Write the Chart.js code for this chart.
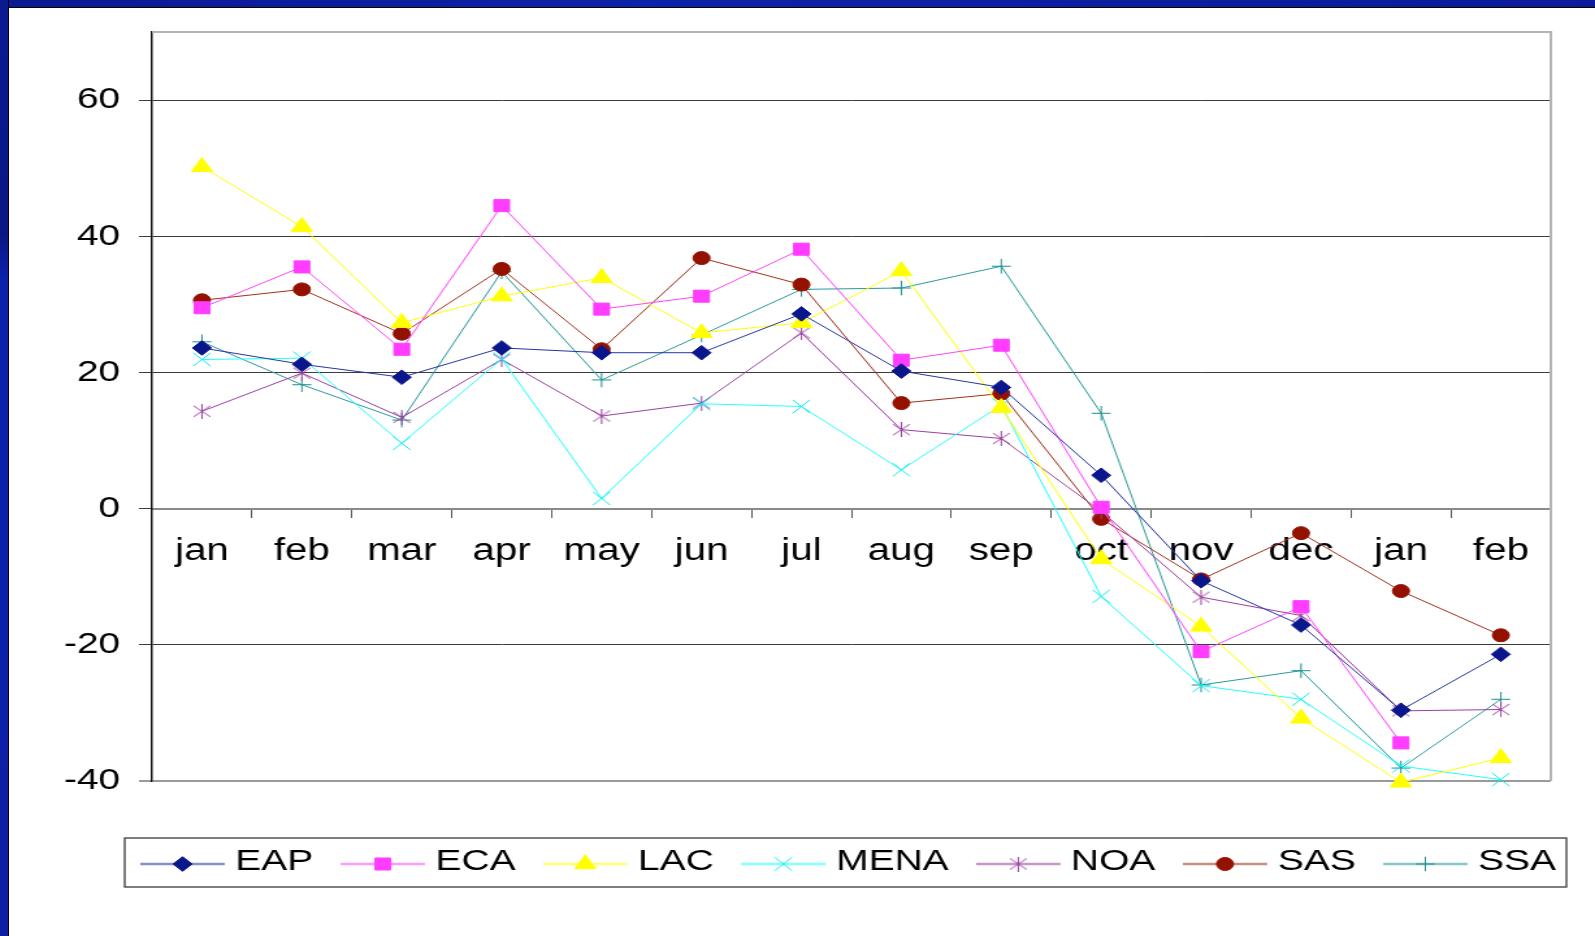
<!DOCTYPE html>
<html>
<head>
<meta charset="utf-8">
<script src="https://cdn.jsdelivr.net/npm/chart.js@4/dist/chart.umd.min.js"></script>
<style>
  html, body { margin: 0; padding: 0; background: #fff; overflow: hidden; }
  body { width: 1595px; height: 936px; position: relative; font-family: "Liberation Sans", Arial, sans-serif; }
  .barTop { position: absolute; left: 0; top: 0; width: 1595px; height: 7px;
    background: linear-gradient(90deg, #0a1a92, #0c22a8 40%, #0a1c9a); border-bottom: 1px solid #000; }
  .barLeft { position: absolute; left: 0; top: 0; width: 8px; height: 936px;
    background: linear-gradient(180deg, #0a1a92, #0a1884 25%, #0c22ac 30%, #0b20a4); border-right: 1px solid #000; }
  #chart { position: absolute; left: 9px; top: 8px; }
</style>
</head>
<body>
<div class="barTop"></div>
<div class="barLeft"></div>
<canvas id="chart" width="1220" height="928" style="width:1586px;height:928px"></canvas>
<script>
// the original picture is stretched sideways, so the canvas is drawn narrow and shown wide
const months = ['jan', 'feb', 'mar', 'apr', 'may', 'jun', 'jul', 'aug', 'sep', 'oct', 'nov', 'dec', 'jan', 'feb'];

const eap  = [23.6, 21.2, 19.3, 23.6, 22.9, 22.9, 28.6, 20.2, 17.8, 4.9, -10.6, -17.1, -29.6, -21.4];
const eca  = [29.5, 35.5, 23.4, 44.5, 29.3, 31.2, 38.1, 21.8, 24.0, 0.2, -21.0, -14.4, -34.4, null];
const lac  = [50.2, 41.4, 27.3, 31.2, 33.9, 25.8, 27.3, 34.9, 14.8, -7.4, -17.3, -30.8, -40.2, -36.6];
const mena = [21.9, 22.1, 9.6, 22.0, 1.5, 15.4, 15.0, 5.7, 15.2, -12.9, -26.0, -28.0, -37.8, -39.8];
const noa  = [14.3, 19.9, 13.4, 21.9, 13.6, 15.5, 25.8, 11.6, 10.3, -0.4, -13.0, -15.7, -29.7, -29.5];
const sas  = [30.6, 32.2, 25.7, 35.2, 23.4, 36.8, 32.9, 15.5, 16.9, -1.5, -10.4, -3.6, -12.1, -18.6];
const ssa  = [24.5, 18.2, 13.0, 34.8, 18.9, 25.5, 32.2, 32.4, 35.6, 14.0, -25.9, -23.8, -38.1, -28.0];

const yTicks = [-40, -20, 0, 20, 40, 60];

const FONT = '"Liberation Sans", Arial, sans-serif';

// Excel style asterisk: vertical bar plus an X
function asterisk(color, w, h) {
    const c = document.createElement('canvas');
    c.width = w;
    c.height = h;
    const g = c.getContext('2d');
    g.strokeStyle = color;
    g.lineWidth = 1;
    g.beginPath();
    g.moveTo(w / 2, 0); g.lineTo(w / 2, h);
    g.moveTo(1, 2); g.lineTo(w - 1, h - 2);
    g.moveTo(w - 1, 2); g.lineTo(1, h - 2);
    g.stroke();
    return c;
}

function series(label, data, line, marker, style, radius) {
    return {
        label,
        data,
        borderColor: line,
        borderWidth: 1,
        backgroundColor: marker,
        pointBackgroundColor: marker,
        pointBorderColor: marker,
        pointBorderWidth: 1,
        pointStyle: style,
        pointRadius: radius,
        pointHoverRadius: radius,
        tension: 0,
        spanGaps: false,
        clip: false
    };
}

const datasets = [
    series('EAP', eap, '#2435a0', '#0a168c', 'rectRot', 7.3),
    series('ECA', eca, '#ff44ff', '#ff3cff', 'rect', 8.5),
    series('LAC', lac, '#ffff00', '#ffff00', 'triangle', 9.3),
    series('MENA', mena, '#22ffff', '#00f0f0', 'crossRot', 9.4),
    series('NOA', noa, '#9a3f9e', '#9a3f9e', asterisk('#9a3f9e', 15, 15), 7),
    series('SAS', sas, '#a0301c', '#941100', 'circle', 6.5),
    series('SSA', ssa, '#2a9a9a', '#1f8f8f', 'cross', 7.3)
];

// grey frame on top and right of the plot
const plotFrame = {
    id: 'plotFrame',
    afterDatasetsDraw(chart) {
        const { ctx, chartArea: a } = chart;
        ctx.save();
        ctx.strokeStyle = '#b4b4b4';
        ctx.lineWidth = 2;
        ctx.beginPath();
        ctx.moveTo(a.left, a.top);
        ctx.lineTo(a.right, a.top);
        ctx.lineTo(a.right, a.bottom);
        ctx.stroke();
        ctx.restore();
    }
};

// legend in a box under the plot, line + marker + label for each series
const boxLegend = {
    id: 'boxLegend',
    afterDraw(chart) {
        const ctx = chart.ctx;
        const box = { left: 89, top: 830, right: 1198, bottom: 879 };
        const lineLen = 65, gap = 8;
        ctx.save();
        ctx.strokeStyle = '#3a3a3a';
        ctx.lineWidth = 1.3;
        ctx.strokeRect(box.left, box.top, box.right - box.left, box.bottom - box.top);

        ctx.font = '30px ' + FONT;
        const widths = chart.data.datasets.map(d => lineLen + gap + ctx.measureText(d.label).width);
        const x0 = 101, x1 = 1190;
        const total = widths.reduce((s, w) => s + w, 0);
        const spacing = (x1 - x0 - total) / (widths.length - 1);
        const ly = 856;
        let x = x0;
        chart.data.datasets.forEach((d, i) => {
            ctx.globalAlpha = 0.55;
            ctx.strokeStyle = d.borderColor;
            ctx.lineWidth = 2.5;
            ctx.beginPath();
            ctx.moveTo(x, ly);
            ctx.lineTo(x + lineLen, ly);
            ctx.stroke();
            ctx.globalAlpha = 1;
            ctx.fillStyle = d.pointBackgroundColor;
            ctx.strokeStyle = d.pointBorderColor;
            ctx.lineWidth = 1;
            Chart.helpers.drawPoint(ctx, {
                pointStyle: d.pointStyle,
                radius: d.pointRadius,
                borderWidth: 1,
                rotation: 0
            }, x + lineLen / 2, ly);
            ctx.fillStyle = '#000';
            ctx.textBaseline = 'alphabetic';
            ctx.textAlign = 'left';
            ctx.fillText(d.label, x + lineLen + gap, 862);
            x += widths[i] + spacing;
        });
        ctx.restore();
    }
};

new Chart(document.getElementById('chart'), {
    type: 'line',
    data: { labels: months, datasets },
    options: {
        responsive: false,
        animation: false,
        devicePixelRatio: 1,
        layout: { padding: { left: 20, right: 34, top: 24, bottom: 155 } },
        plugins: {
            legend: { display: false },
            tooltip: { enabled: false }
        },
        scales: {
            x: {
                type: 'category',
                position: { y: 0 },
                offset: true,
                grid: {
                    offset: true,
                    drawOnChartArea: false,
                    drawTicks: true,
                    tickLength: 8,
                    color: '#555'
                },
                border: { display: true, color: '#8a8a8a', width: 2 },
                ticks: {
                    color: '#000',
                    font: { family: FONT, size: 31 },
                    padding: 16,
                    maxRotation: 0,
                    autoSkip: false
                }
            },
            y: {
                min: -40,
                max: 70,
                afterBuildTicks(scale) {
                    scale.ticks = yTicks.map(v => ({ value: v }));
                },
                afterFit(scale) {
                    scale.width = 90;
                    scale.paddingTop = 0;
                    scale.paddingBottom = 0;
                },
                grid: {
                    color: ctx => ctx.tick && ctx.tick.value === -40 ? '#9a9a9a' : '#3c3c3c',
                    lineWidth: ctx => ctx.tick && ctx.tick.value === -40 ? 2 : 1,
                    tickLength: 10
                },
                border: { display: true, color: '#111', width: 1.5 },
                ticks: {
                    stepSize: 20,
                    color: '#000',
                    font: { family: FONT, size: 30 },
                    padding: 14.5
                }
            }
        }
    },
    plugins: [plotFrame, boxLegend]
});
</script>
</body>
</html>
